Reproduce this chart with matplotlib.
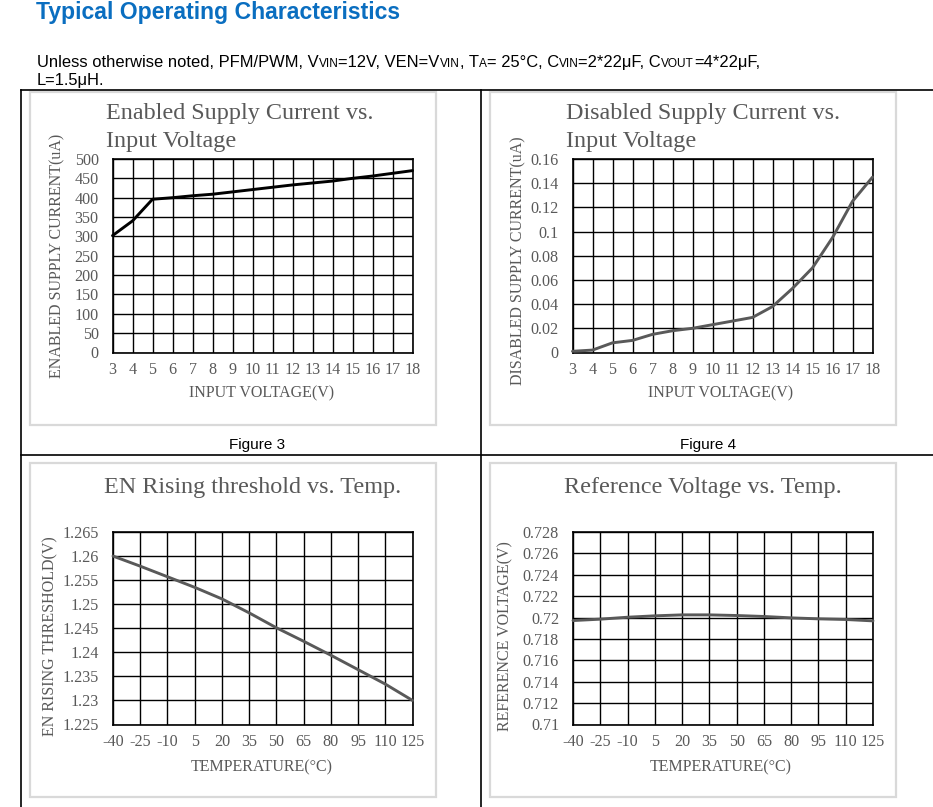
import numpy as np
import matplotlib
matplotlib.use("Agg")
import matplotlib.pyplot as plt
from matplotlib.patches import Rectangle
from matplotlib.lines import Line2D

# ---------------- data ----------------
vin = [3, 4, 5, 6, 7, 8, 9, 10, 11, 12, 13, 14, 15, 16, 17, 18]
enabled_current = [302, 340, 396, 400, 405, 409, 415, 421, 427, 433, 438, 443, 450, 456, 463, 470]
disabled_current = [0.001, 0.002, 0.008, 0.010, 0.015, 0.018, 0.020, 0.023, 0.026, 0.029,
                    0.038, 0.053, 0.070, 0.095, 0.125, 0.145]
temps = [-40, -25, -10, 5, 20, 35, 50, 65, 80, 95, 110, 125]
en_threshold = [1.2600, 1.2579, 1.2557, 1.2535, 1.2511, 1.2482, 1.2451, 1.2423, 1.2394,
                1.2364, 1.2334, 1.2300]
ref_voltage = [0.71972, 0.71985, 0.72003, 0.72016, 0.72025, 0.72025, 0.72019, 0.72010,
               0.71997, 0.71988, 0.71982, 0.71969]

en_yticks = [0, 50, 100, 150, 200, 250, 300, 350, 400, 450, 500]
dis_yticks = [0, 0.02, 0.04, 0.06, 0.08, 0.1, 0.12, 0.14, 0.16]
th_yticks = [1.225, 1.23, 1.235, 1.24, 1.245, 1.25, 1.255, 1.26, 1.265]
ref_yticks = [0.71, 0.712, 0.714, 0.716, 0.718, 0.72, 0.722, 0.724, 0.726, 0.728]

# ---------------- layout helpers ----------------
W, H = 933, 807
fig = plt.figure(figsize=(W / 100, H / 100), dpi=100)
fig.patch.set_facecolor("white")

def fx(x):
    return x / W

def fy(y):
    return 1 - y / H

SERIF = ["Liberation Serif", "DejaVu Serif"]
SANS = ["Liberation Sans", "DejaVu Sans"]
GRAY = "#595959"

# header
fig.text(fx(36), fy(19), "Typical Operating Characteristics", family=SANS, weight="bold",
         fontsize=16.6, color="#0A6EC0", ha="left", va="baseline")

renderer = fig.canvas.get_renderer()

def rich_line(x, y, runs, size):
    cur = x
    for txt, small in runs:
        t = fig.text(fx(cur), fy(y), txt, family=SANS, fontsize=size * (0.72 if small else 1.0),
                     color="black", ha="left", va="baseline")
        bb = t.get_window_extent(renderer=renderer)
        cur += bb.width

rich_line(37, 67, [("Unless otherwise noted, PFM/PWM, V", False), ("VIN", True),
                   ("=12V, VEN=V", False), ("VIN", True), (", T", False), ("A", True),
                   ("= 25°C, C", False), ("VIN", True), ("=2*22μF, C", False),
                   ("VOUT", True), ("=4*22μF,", False)], 11.9)
rich_line(37, 85, [("L=1.5μH.", False)], 11.9)

# table lines
def hline(y, x0, x1):
    fig.add_artist(Line2D([fx(x0), fx(x1)], [fy(y), fy(y)], color="black", lw=1.2))

def vline(x, y0, y1):
    fig.add_artist(Line2D([fx(x), fx(x)], [fy(y0), fy(y1)], color="black", lw=1.2))

hline(89.5, 20.5, 933)
hline(454.5, 20.5, 933)
vline(20.5, 89.5, 807)
vline(481.5, 89.5, 807)

# chart frames
for (x0, y0, x1, y1) in [(30, 91.5, 436, 424.5), (489.5, 91.5, 896, 424.5),
                         (30, 463, 436, 797), (489.5, 463, 896, 797)]:
    fig.add_artist(Rectangle((fx(x0), fy(y1)), fx(x1) - fx(x0), fy(y0) - fy(y1),
                             fill=False, edgecolor="#d9d9d9", lw=1.6))

fig.text(fx(257), fy(445), "Figure 3", family=SANS, fontsize=11, ha="center", va="center")
fig.text(fx(708), fy(445), "Figure 4", family=SANS, fontsize=11, ha="center", va="center")

def fmt(v):
    return "%g" % round(v, 6)

def make_chart(box, cats, vals, yticks, color, title_lines, title_x, title_ha, title_base,
               ylabel, ylab_xy, xlabel, xlab_xy):
    x0, y0, x1, y1 = box
    ax = fig.add_axes([fx(x0), fy(y1), fx(x1) - fx(x0), fy(y0) - fy(y1)])
    idx = np.arange(len(cats))
    ax.set_xlim(0, len(cats) - 1)
    ax.set_ylim(yticks[0], yticks[-1])
    ax.set_xticks(idx)
    ax.set_xticklabels([str(c) for c in cats])
    ax.set_yticks(yticks)
    ax.set_yticklabels([fmt(v) for v in yticks])
    ax.grid(True, color="black", lw=1.0)
    ax.set_axisbelow(True)
    for s in ax.spines.values():
        s.set_color("black")
        s.set_linewidth(1.2)
    ax.tick_params(length=0, labelsize=11.6, labelcolor=GRAY)
    ax.tick_params(axis="y", pad=10)
    ax.tick_params(axis="x", pad=7)
    for lab in ax.get_xticklabels() + ax.get_yticklabels():
        lab.set_family(SERIF)
    ax.plot(idx, vals, color=color, lw=2.1, solid_joinstyle="round", solid_capstyle="round",
            clip_on=False, zorder=3)
    for i, line in enumerate(title_lines):
        fig.text(fx(title_x), fy(title_base + 28 * i), line, family=SERIF, fontsize=17.4,
                 color=GRAY, ha=title_ha, va="baseline")
    fig.text(fx(ylab_xy[0]), fy(ylab_xy[1]), ylabel, family=SERIF, fontsize=11.5, color=GRAY,
             rotation=90, ha="center", va="center")
    fig.text(fx(xlab_xy[0]), fy(xlab_xy[1]), xlabel, family=SERIF, fontsize=11.5, color=GRAY,
             ha="center", va="center")
    return ax

make_chart((112.5, 159, 412.5, 352.5), vin, enabled_current, en_yticks, "black",
           ["Enabled Supply Current vs.", "Input Voltage"], 106, "left", 119,
           "ENABLED SUPPLY CURRENT(uA)", (57, 256), "INPUT VOLTAGE(V)", (262, 393))
make_chart((572.5, 159, 872.5, 352.5), vin, disabled_current, dis_yticks, "#595959",
           ["Disabled Supply Current vs.", "Input Voltage"], 566, "left", 119,
           "DISABLED SUPPLY CURRENT(uA)", (518, 261), "INPUT VOLTAGE(V)", (721, 393))
make_chart((113, 532, 412.5, 724.5), temps, en_threshold, th_yticks, "#595959",
           ["EN Rising threshold vs. Temp."], 253, "center", 493,
           "EN RISING THRESHOLD(V)", (50, 636), "TEMPERATURE(°C)", (262, 767))
make_chart((573, 532, 873, 724.5), temps, ref_voltage, ref_yticks, "#595959",
           ["Reference Voltage vs. Temp."], 703, "center", 493,
           "REFERENCE VOLTAGE(V)", (505, 636), "TEMPERATURE(°C)", (721, 767))

fig.savefig("out.png", dpi=100, facecolor="white")
